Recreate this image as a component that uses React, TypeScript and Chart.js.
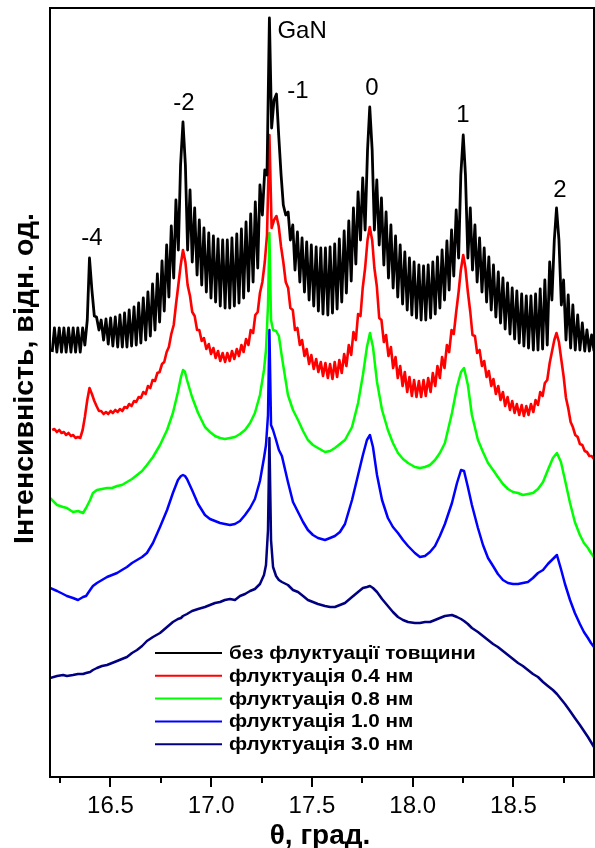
import React, { useEffect, useRef } from "react";
import { Chart, registerables } from "chart.js";

Chart.register(...registerables);

// Fine angular grid (deg) for the curves with thickness fringes
const gridTheta = [
  16.211, 16.222, 16.234, 16.246, 16.257, 16.269, 16.280, 16.292, 16.304, 16.315, 16.327, 16.338, 16.350, 16.362,
  16.373, 16.385, 16.396, 16.408, 16.420, 16.431, 16.443, 16.454, 16.466, 16.478, 16.489, 16.501, 16.512, 16.524,
  16.536, 16.547, 16.559, 16.570, 16.582, 16.593, 16.605, 16.617, 16.628, 16.640, 16.651, 16.663, 16.675, 16.686,
  16.698, 16.709, 16.721, 16.733, 16.744, 16.756, 16.767, 16.779, 16.790, 16.802, 16.814, 16.825, 16.837, 16.848,
  16.860, 16.872, 16.883, 16.895, 16.906, 16.918, 16.930, 16.941, 16.953, 16.964, 16.976, 16.988, 16.999, 17.011,
  17.022, 17.034, 17.045, 17.057, 17.069, 17.080, 17.092, 17.103, 17.115, 17.127, 17.138, 17.150, 17.161, 17.173,
  17.185, 17.196, 17.208, 17.219, 17.231, 17.242, 17.254, 17.266, 17.277, 17.289, 17.300, 17.312,
  17.324, 17.335, 17.347, 17.358, 17.370, 17.382, 17.393, 17.405, 17.416, 17.428, 17.440, 17.451, 17.463, 17.474,
  17.486, 17.497, 17.509, 17.521, 17.532, 17.544, 17.555, 17.567, 17.579, 17.590, 17.602, 17.613, 17.625, 17.636,
  17.648, 17.660, 17.671, 17.683, 17.695, 17.706, 17.718, 17.729, 17.741, 17.752, 17.764, 17.776,
  17.787, 17.799, 17.810, 17.822, 17.834, 17.845, 17.857, 17.868, 17.880, 17.892, 17.903, 17.915, 17.926, 17.938,
  17.950, 17.961, 17.973, 17.984, 17.996, 18.007, 18.019, 18.031, 18.042, 18.054, 18.065, 18.077, 18.089, 18.100,
  18.112, 18.123, 18.135, 18.146, 18.158, 18.170, 18.181, 18.193, 18.204, 18.216, 18.228, 18.239,
  18.251, 18.262, 18.274, 18.286, 18.297, 18.309, 18.320, 18.332, 18.344, 18.355, 18.367, 18.378, 18.390, 18.401,
  18.413, 18.425, 18.436, 18.448, 18.459, 18.471, 18.483, 18.494, 18.506, 18.517, 18.529, 18.541, 18.552, 18.564,
  18.575, 18.587, 18.599, 18.610, 18.622, 18.633, 18.645, 18.656, 18.668, 18.680, 18.691, 18.703,
  18.714, 18.726, 18.738, 18.749, 18.761, 18.772, 18.784, 18.795, 18.807, 18.819, 18.830, 18.842, 18.854, 18.865,
  18.877, 18.888, 18.900,
];

// без флуктуації товщини (offset intensity, a.u.)
const blackI = [
  425, 449, 425, 449, 425, 449, 425, 449, 425, 449, 425, 449, 425, 449,
  432, 457, 519, 487, 461, 460, 447, 457, 437, 458, 433, 459, 431, 460, 430, 462, 430, 464, 430, 467, 431, 470,
  432, 474, 434, 479, 437, 485, 441, 493, 447, 503, 455, 516, 466, 532, 480, 551, 499, 577, 527, 612,
  655, 612, 527, 587, 515, 569, 502, 557, 492, 549, 485, 544, 479, 541, 475, 538, 471, 537, 469, 537,
  469, 539, 471, 543, 474, 548, 479, 555, 486, 563, 495, 575, 509, 592, 562, 607, 602, 759, 649, 677,
  683, 642, 602, 572, 562, 565, 537, 552, 507, 545, 495, 539, 485, 535, 477, 532, 471, 530, 466, 529,
  463, 529, 462, 530, 464, 533, 468, 538, 475, 546, 484, 556, 496, 569, 513, 585, 537, 599, 547, 627,
  670, 627, 547, 597, 532, 579, 512, 565, 499, 552, 489, 541, 480, 532, 473, 525, 467, 519, 462, 515,
  459, 512, 457, 511, 457, 512, 459, 515, 463, 520, 469, 527, 477, 536, 487, 547, 501, 567, 519, 602,
  642, 602, 519, 569, 507, 552, 495, 539, 485, 529, 475, 520, 467, 512, 460, 505, 454, 499, 448, 494,
  443, 489, 438, 486, 434, 483, 431, 481, 429, 481, 427, 483, 427, 488, 428, 497, 432, 515, 477, 537,
  569, 537, 472, 497, 437, 482, 429, 472, 427, 462, 427, 454, 426, 447, 426, 442, 426,
];

// флуктуація 0.4 нм
const redI = [
  347, 348, 345, 347, 344, 345, 342, 344, 341, 342, 339, 340, 339, 347,
  360, 377, 389, 383, 376, 371, 366, 366, 363, 365, 363, 366, 364, 367, 365, 368, 366, 370, 369, 373, 371, 376,
  375, 380, 379, 385, 383, 391, 389, 397, 396, 404, 405, 413, 415, 425, 430, 443, 452, 472, 492, 511,
  527, 515, 492, 481, 465, 461, 447, 447, 436, 439, 428, 433, 423, 429, 419, 426, 416, 424, 415, 424,
  416, 426, 418, 428, 421, 432, 425, 438, 432, 447, 444, 462, 465, 484, 495, 515, 542, 642, 549, 557,
  561, 551, 530, 515, 495, 489, 469, 467, 447, 449, 432, 437, 421, 428, 413, 422, 408, 418, 405, 415,
  401, 414, 399, 413, 398, 415, 400, 417, 404, 423, 411, 432, 422, 445, 437, 463, 461, 489, 509, 537,
  550, 537, 509, 491, 459, 457, 435, 442, 421, 430, 409, 420, 399, 411, 391, 405, 385, 400, 381, 397,
  380, 396, 380, 397, 381, 399, 385, 404, 391, 411, 399, 420, 409, 432, 425, 447, 443, 465, 485, 507,
  522, 509, 485, 465, 442, 441, 424, 427, 411, 416, 400, 406, 391, 398, 383, 391, 377, 385, 371, 380,
  367, 376, 364, 373, 362, 372, 361, 371, 362, 373, 365, 377, 372, 385, 381, 394, 397, 414, 425, 437,
  444, 435, 417, 401, 379, 369, 355, 350, 342, 340, 333, 332, 326, 325, 321, 321, 318,
];

// Coarser angular grid (deg) for the smoother curves
const smoothTheta = [
  16.200, 16.235, 16.265, 16.284, 16.314, 16.339, 16.364, 16.379, 16.399, 16.413,
  16.433, 16.458, 16.483, 16.508, 16.533, 16.557, 16.582, 16.607, 16.632, 16.657,
  16.681, 16.711, 16.746, 16.781, 16.810, 16.835, 16.850, 16.860, 16.870, 16.880,
  16.905, 16.935, 16.969, 16.994, 17.019, 17.044, 17.068, 17.093, 17.118, 17.143,
  17.168, 17.193, 17.217, 17.242, 17.262, 17.272, 17.282, 17.289, 17.297, 17.307,
  17.322, 17.336, 17.351, 17.381, 17.406, 17.431, 17.456, 17.480, 17.505, 17.530,
  17.565, 17.590, 17.614, 17.639, 17.664, 17.699, 17.729, 17.753, 17.773, 17.788,
  17.803, 17.823, 17.848, 17.877, 17.902, 17.927, 17.952, 17.977, 18.011, 18.036,
  18.061, 18.086, 18.111, 18.135, 18.160, 18.195, 18.220, 18.240, 18.255, 18.274,
  18.294, 18.324, 18.349, 18.374, 18.399, 18.423, 18.448, 18.473, 18.498, 18.523,
  18.547, 18.572, 18.597, 18.622, 18.647, 18.671, 18.696, 18.716, 18.736, 18.756,
  18.781, 18.805, 18.830, 18.850, 18.870, 18.885, 18.900,
];

// флуктуація 0.8 нм
const greenI = [
  279, 272, 270, 269, 265, 266, 264, 269, 277, 284,
  287, 288, 289, 289, 291, 292, 295, 298, 302, 306,
  312, 320, 332, 347, 364, 385, 400, 407, 405, 397,
  380, 364, 350, 345, 341, 339, 338, 339, 340, 343,
  347, 354, 364, 382, 407, 427, 472, 544, 457, 447,
  446, 441, 420, 382, 367, 357, 346, 337, 332, 329,
  325, 326, 329, 333, 337, 350, 374, 402, 430, 444,
  430, 395, 367, 347, 334, 324, 318, 314, 310, 309,
  310, 312, 317, 324, 334, 364, 390, 405, 409, 392,
  362, 337, 325, 314, 307, 300, 293, 288, 285, 284,
  282, 283, 284, 288, 295, 307, 319, 324, 315, 297,
  274, 255, 242, 234, 229, 224, 220,
];

// флуктуація 1.0 нм
const blueI = [
  189, 186, 183, 181, 179, 177, 180, 181, 187, 191,
  194, 197, 200, 202, 204, 207, 210, 214, 217, 220,
  224, 234, 250, 267, 284, 297, 301, 302, 301, 298,
  287, 273, 262, 258, 256, 254, 253, 252, 253, 256,
  262, 269, 278, 296, 319, 332, 362, 447, 352, 347,
  337, 327, 321, 295, 275, 265, 255, 247, 242, 239,
  237, 239, 241, 245, 253, 277, 302, 322, 337, 342,
  330, 302, 277, 259, 250, 244, 237, 231, 224, 220,
  221, 225, 231, 241, 253, 274, 294, 307, 306, 290,
  272, 249, 232, 219, 211, 203, 197, 194, 193, 193,
  194, 195, 199, 204, 207, 213, 218, 222, 208, 193,
  177, 164, 153, 145, 139, 134, 130,
];

// флуктуація 3.0 нм
const navyI = [
  99, 101, 102, 101, 102, 103, 103, 104, 105, 107,
  109, 111, 112, 114, 116, 118, 120, 124, 127, 131,
  136, 140, 144, 150, 155, 158, 159, 161, 162, 163,
  166, 168, 170, 172, 174, 175, 177, 178, 177, 181,
  183, 186, 188, 193, 202, 212, 247, 339, 237, 210,
  201, 197, 195, 192, 187, 185, 181, 177, 175, 173,
  171, 170, 170, 172, 174, 180, 185, 189, 190, 191,
  189, 185, 178, 171, 165, 160, 157, 155, 154, 154,
  155, 155, 157, 159, 161, 162, 160, 158, 156, 153,
  149, 145, 141, 137, 133, 130, 126, 122, 118, 114,
  111, 107, 103, 100, 95, 91, 87, 83, 78, 73,
  66, 59, 52, 46, 40, 35, 30,
];

const seriesLabels = [
  "без флуктуації товщини",
  "флуктуація 0.4 нм",
  "флуктуація 0.8 нм",
  "флуктуація 1.0 нм",
  "флуктуація 3.0 нм",
];
const seriesColors = ["#000000", "#ff0000", "#00ff00", "#0000ff", "#000080"];
const seriesTheta = [gridTheta, gridTheta, smoothTheta, smoothTheta, smoothTheta];
const seriesValues = [blackI, redI, greenI, blueI, navyI];
const seriesWidths = [2.8, 2.6, 2.5, 2.5, 2.5];

const peakLabels = ["-4", "-2", "GaN", "-1", "0", "1", "2"];
const peakLabelTheta = [16.408, 16.865, 17.451, 17.431, 17.798, 18.25, 18.731];
const peakLabelI = [539, 674, 746, 686, 689, 662, 587];

const majorTicks = [16.5, 17.0, 17.5, 18.0, 18.5];
const minorTicks = [16.25, 16.75, 17.25, 17.75, 18.25, 18.75];

const xTitle = "θ, град.";
const yTitle = "Інтенсивність, відн. од.";

const FONT = "'Liberation Sans', Arial, Helvetica, sans-serif";

const decorPlugin = {
  id: "decor",
  afterDraw(chart: any) {
    const { ctx, chartArea: a, scales } = chart;
    const xs = scales.x;
    const ys = scales.y;
    ctx.save();
    // frame
    ctx.strokeStyle = "#000";
    ctx.lineWidth = 2;
    ctx.strokeRect(a.left, a.top, a.right - a.left, a.bottom - a.top);
    // ticks
    ctx.beginPath();
    majorTicks.forEach((v) => {
      const px = Math.round(xs.getPixelForValue(v));
      ctx.moveTo(px, a.bottom);
      ctx.lineTo(px, a.bottom + 10);
    });
    minorTicks.forEach((v) => {
      const px = Math.round(xs.getPixelForValue(v));
      ctx.moveTo(px, a.bottom);
      ctx.lineTo(px, a.bottom + 6);
    });
    ctx.stroke();

    // peak annotations
    ctx.fillStyle = "#000";
    ctx.font = `24px ${FONT}`;
    ctx.textAlign = "center";
    ctx.textBaseline = "middle";
    peakLabels.forEach((t, i) => {
      ctx.fillText(t, xs.getPixelForValue(peakLabelTheta[i]), ys.getPixelForValue(peakLabelI[i]));
    });

    // legend
    const top0 = a.bottom - 124;
    const gap = 22.8;
    seriesLabels.forEach((lab, i) => {
      const yy = top0 + i * gap;
      ctx.strokeStyle = seriesColors[i];
      ctx.lineWidth = 2;
      ctx.beginPath();
      ctx.moveTo(a.left + 105, yy);
      ctx.lineTo(a.left + 172, yy);
      ctx.stroke();
      ctx.save();
      ctx.fillStyle = "#000";
      ctx.font = `bold 18px ${FONT}`;
      ctx.textAlign = "left";
      ctx.textBaseline = "middle";
      ctx.translate(a.left + 179, yy + 1);
      ctx.scale(1.15, 1);
      ctx.fillText(lab, 0, 0);
      ctx.restore();
    });

    // axis titles
    ctx.fillStyle = "#000";
    ctx.font = `bold 28px ${FONT}`;
    ctx.textAlign = "center";
    ctx.textBaseline = "middle";
    ctx.fillText(xTitle, (a.left + a.right) / 2 - 2, 836);
    ctx.save();
    ctx.font = `bold 28.5px ${FONT}`;
    ctx.translate(25, (a.top + a.bottom) / 2 - 14);
    ctx.rotate(-Math.PI / 2);
    ctx.fillText(yTitle, 0, 0);
    ctx.restore();

    ctx.restore();
  },
};

export default function App() {
  const canvasRef = useRef<HTMLCanvasElement | null>(null);

  useEffect(() => {
    document.body.style.margin = "0";
    const canvas = canvasRef.current;
    if (!canvas) return;
    const chart = new Chart(canvas, {
      type: "line",
      data: {
        datasets: seriesLabels.map((label, i) => ({
          label,
          data: seriesTheta[i].map((t, j) => ({ x: t, y: seriesValues[i][j] })),
          borderColor: seriesColors[i],
          backgroundColor: seriesColors[i],
          borderWidth: seriesWidths[i],
          pointRadius: 0,
          tension: 0,
          fill: false,
          borderJoinStyle: "round" as const,
        })),
      },
      options: {
        animation: false,
        responsive: false,
        maintainAspectRatio: false,
        devicePixelRatio: 1,
        layout: { padding: { left: 50, right: 1, top: 8, bottom: 0 } },
        plugins: {
          legend: { display: false },
          tooltip: { enabled: false },
        },
        scales: {
          x: {
            type: "linear",
            min: 16.2,
            max: 18.9,
            afterBuildTicks: (s: any) => {
              s.ticks = majorTicks.map((v) => ({ value: v }));
            },
            afterFit: (s: any) => {
              s.height = 71;
            },
            grid: { display: false, drawTicks: true, tickLength: 10 },
            border: { display: false },
            ticks: {
              padding: 5,
              color: "#000",
              font: { family: FONT, size: 24 },
              maxRotation: 0,
              autoSkip: false,
              callback: (v: any) => Number(v).toFixed(1),
            },
          },
          y: { display: false, min: 0, max: 769 },
        },
      },
      plugins: [decorPlugin],
    });
    return () => chart.destroy();
  }, []);

  return (
    <div style={{ width: 595, height: 848 }}>
      <canvas ref={canvasRef} width={595} height={848} style={{ display: "block" }} />
    </div>
  );
}
